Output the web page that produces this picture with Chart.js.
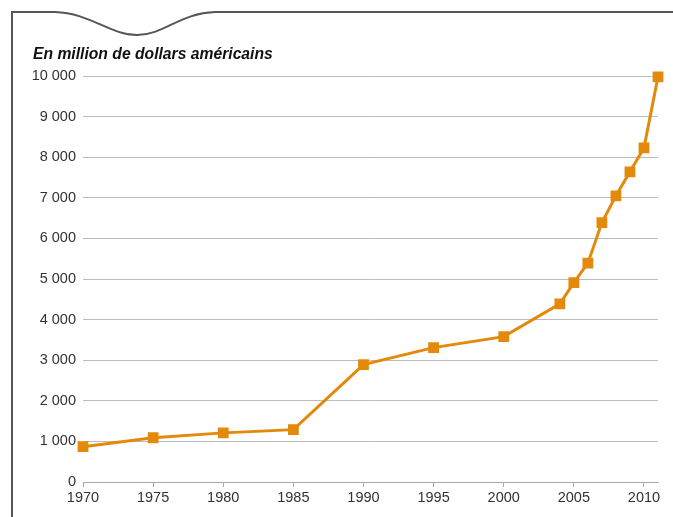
<!DOCTYPE html>
<html>
<head>
<meta charset="utf-8">
<script src="https://cdn.jsdelivr.net/npm/chart.js@4"></script>
<style>
  html, body { margin: 0; padding: 0; background: #fff; }
  #wrap { width: 673px; height: 517px; position: relative; }
</style>
</head>
<body>
<div id="wrap"><canvas id="line-chart"></canvas></div>
<script>
var annees = [1970, 1975, 1980, 1985, 1990, 1995, 2000, 2004, 2005, 2006, 2007, 2008, 2009, 2010, 2011];
var valeurs = [870, 1090, 1210, 1290, 2890, 3310, 3580, 4390, 4910, 5390, 6390, 7050, 7640, 8230, 9980];
var xTicks = [1970, 1975, 1980, 1985, 1990, 1995, 2000, 2005, 2010];
var titre = 'En million de dollars américains';

var police = '"Liberation Sans", Arial, sans-serif';

// cadre avec la vague en haut + titre
var cadre = {
    id: 'cadre',
    beforeDraw: function (chart) {
        var ctx = chart.ctx;
        ctx.save();
        ctx.strokeStyle = '#555';
        ctx.lineWidth = 2;
        ctx.beginPath();
        ctx.moveTo(12, 517);
        ctx.lineTo(12, 12);
        ctx.lineTo(55, 12);
        ctx.bezierCurveTo(90, 13, 110, 35, 137, 35);
        ctx.bezierCurveTo(164, 35, 180, 13, 215, 12);
        ctx.lineTo(673, 12);
        ctx.stroke();
        ctx.fillStyle = '#111';
        ctx.font = 'italic bold 15.7px ' + police;
        ctx.textBaseline = 'alphabetic';
        ctx.fillText(titre, 33, 59);
        ctx.restore();
    }
};

var ctx = document.getElementById('line-chart');
var chart = new Chart(ctx, {
    type: 'line',
    data: {
        datasets: [{
            data: annees.map(function (a, i) { return { x: a, y: valeurs[i] }; }),
            borderColor: '#E3890B',
            backgroundColor: '#E3890B',
            borderWidth: 3,
            pointStyle: 'rect',
            pointRadius: 5.5,
            pointHoverRadius: 5.5,
            tension: 0,
            clip: false
        }]
    },
    options: {
        responsive: true,
        maintainAspectRatio: false,
        animation: false,
        layout: { padding: { top: 76, right: 15, left: 0, bottom: 0 } },
        plugins: { legend: { display: false }, tooltip: { enabled: false } },
        scales: {
            x: {
                type: 'linear',
                min: 1970,
                max: 2011,
                afterBuildTicks: function (scale) {
                    scale.ticks = xTicks.map(function (v) { return { value: v }; });
                },
                afterFit: function (scale) { scale.height = 35; },
                grid: { drawOnChartArea: false, drawTicks: true, tickLength: 5, color: '#aaa' },
                border: { display: true, color: '#aaa', width: 1 },
                ticks: {
                    padding: 2,
                    maxRotation: 0,
                    autoSkip: false,
                    color: '#333',
                    font: { family: police, size: 14.5 },
                    callback: function (v) { return String(v); }
                }
            },
            y: {
                min: 0,
                max: 10000,
                afterFit: function (scale) { scale.width = 83; },
                grid: { drawTicks: false, color: '#bcbcbc', lineWidth: 1 },
                border: { display: false },
                ticks: {
                    stepSize: 1000,
                    padding: 7,
                    color: '#333',
                    font: { family: police, size: 14.5 },
                    callback: function (v) { return String(v).replace(/\B(?=(\d{3})+(?!\d))/g, ' '); }
                }
            }
        }
    },
    plugins: [cadre]
});
</script>
</body>
</html>
